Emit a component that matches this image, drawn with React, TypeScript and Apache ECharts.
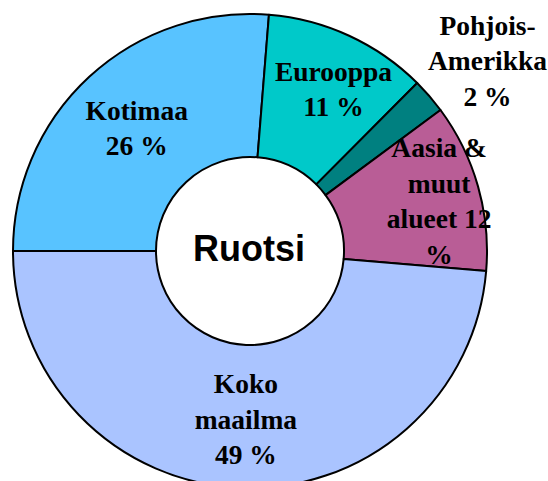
import React, { useEffect, useRef } from "react";
import * as echarts from "echarts";

const categories = ["Kotimaa", "Eurooppa", "Pohjois-Amerikka", "Aasia & muut alueet", "Koko maailma"];
const values = [26.3, 11.2, 2.4, 11.5, 48.7];
const labelTexts = [
  "Kotimaa\n26 %",
  "Eurooppa\n11 %",
  "Pohjois-\nAmerikka\n2 %",
  "Aasia &\nmuut\nalueet 12\n%",
  "Koko\nmaailma\n49 %",
];
const colors = ["#58C3FF", "#00C9C9", "#008080", "#B95D96", "#AAC4FF"];
const labelShift: number[][] = [
  [1, 1],
  [13, -9],
  [110, -80],
  [27, -4],
  [3, 0],
];
const centerTitle = "Ruotsi";

export default function App() {
  const ref = useRef<HTMLDivElement>(null);
  useEffect(() => {
    if (!ref.current) return;
    const chart = echarts.init(ref.current, null, { renderer: "svg" });
    chart.setOption({
      animation: false,
      backgroundColor: "#ffffff",
      series: [
        {
          type: "pie",
          center: [250, 251],
          radius: [94, 237],
          startAngle: 180,
          clockwise: true,
          avoidLabelOverlap: false,
          itemStyle: { borderColor: "#000000", borderWidth: 2 },
          emphasis: { disabled: true },
          label: {
            show: true,
            position: "inside",
            formatter: (p: any) => labelTexts[p.dataIndex],
            fontFamily: "'Times New Roman', 'Liberation Serif', serif",
            fontWeight: "bold",
            fontSize: 27.5,
            lineHeight: 35.5,
            color: "#000000",
            align: "center",
          },
          labelLine: { show: false },
          labelLayout: (p: any) => ({
            dx: labelShift[p.dataIndex][0],
            dy: labelShift[p.dataIndex][1],
          }),
          data: categories.map((name, i) => ({
            name,
            value: values[i],
            itemStyle: { color: colors[i] },
          })),
        },
      ],
      graphic: [
        {
          type: "text",
          x: 249,
          y: 248,
          style: {
            text: centerTitle,
            fontFamily: "Arial, 'Liberation Sans', sans-serif",
            fontWeight: "bold",
            fontSize: 36,
            fill: "#000000",
            textAlign: "center",
            textVerticalAlign: "middle",
          },
        },
      ],
    });
    return () => chart.dispose();
  }, []);
  return (
    <div
      ref={ref}
      style={{ position: "fixed", left: 0, top: 0, width: 548, height: 481 }}
    />
  );
}
